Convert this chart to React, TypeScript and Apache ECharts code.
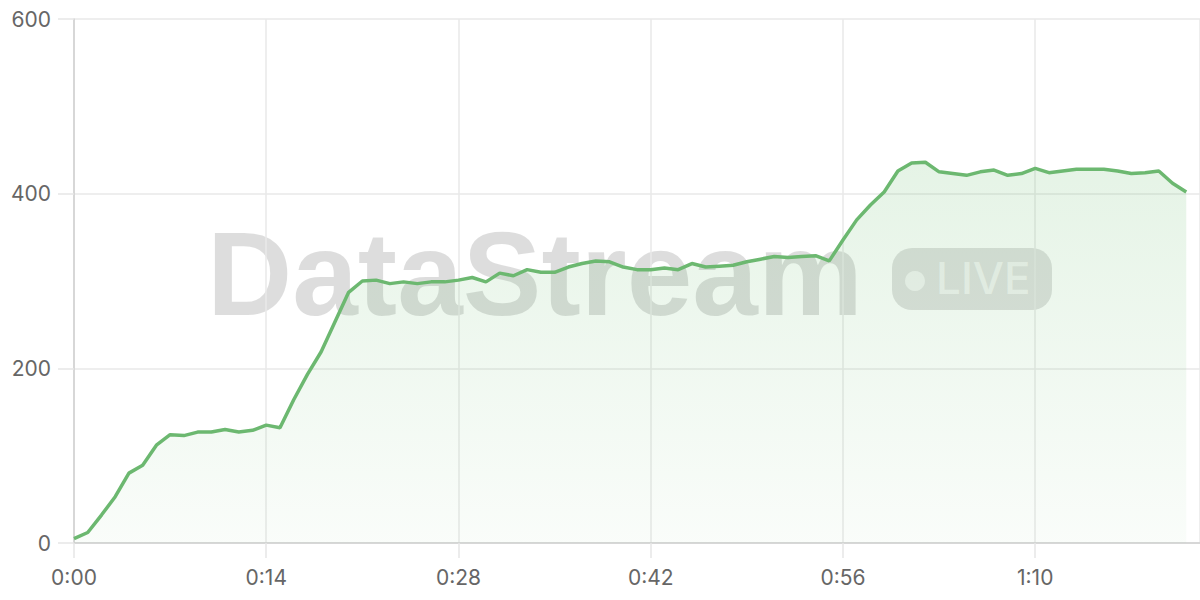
import { useRef, useEffect } from 'react';
import * as echarts from 'echarts';

// one sample per second, 0:00 .. 1:21
const seconds: number[] = Array.from({ length: 82 }, (_, i) => i);

const throughput: number[] = [
  5, 12, 32, 53, 80, 89, 112, 124, 123, 127,
  127, 130, 127, 129, 135, 132, 164, 193, 219, 253,
  287, 300, 301, 297, 299, 297, 299, 299, 301, 304,
  299, 309, 306, 313, 310, 310, 316, 320, 323, 322,
  316, 313, 313, 315, 313, 320, 316, 317, 318, 322,
  325, 328, 327, 328, 329, 323, 347, 370, 387, 402,
  426, 435, 436, 425, 423, 421, 425, 427, 421, 423,
  429, 424, 426, 428, 428, 428, 426, 423, 424, 426,
  412, 402,
];

const yTicks: number[] = [0, 200, 400, 600];
const xTicks: number[] = [0, 14, 28, 42, 56, 70];

const fmtTime = (v: number) => `${Math.floor(v / 60)}:${String(v % 60).padStart(2, '0')}`;

const LINE = '#6cb870';

export default function App() {
  const chartRef = useRef<HTMLDivElement>(null);

  useEffect(() => {
    if (!chartRef.current) return;
    const chart = echarts.init(chartRef.current, undefined, { renderer: 'svg' });

    const option = {
      animation: false,
      backgroundColor: '#fff',
      textStyle: { fontFamily: 'Inter' },
      grid: { left: 74, right: 0, top: 19, bottom: 57, containLabel: false, outerBoundsMode: 'none' },
      xAxis: {
        type: 'value',
        min: xTicks[0],
        max: 82,
        interval: xTicks[1] - xTicks[0],
        axisLine: { show: true, lineStyle: { color: '#cfcfcf', width: 1.5 } },
        axisTick: { show: true, length: 15, lineStyle: { color: '#e6e6e6', width: 1.5 } },
        splitLine: { show: true, lineStyle: { color: '#e8e8e8', width: 1.5 } },
        axisLabel: { color: '#666', fontSize: 21, margin: 24, formatter: fmtTime, showMaxLabel: false },
      },
      yAxis: {
        type: 'value',
        min: yTicks[0],
        max: yTicks[yTicks.length - 1],
        interval: yTicks[1] - yTicks[0],
        axisLine: { show: true, lineStyle: { color: '#cfcfcf', width: 1.5 } },
        axisTick: { show: true, length: 16, lineStyle: { color: '#e6e6e6', width: 1.5 } },
        splitLine: { show: true, lineStyle: { color: '#e8e8e8', width: 1.5 } },
        axisLabel: { color: '#666', fontSize: 21, margin: 23 },
      },
      graphic: [
        {
          type: 'group',
          z: 1,
          silent: true,
          children: [
            {
              type: 'text',
              style: {
                x: 207,
                y: 215,
                text: 'DataStream',
                fontFamily: 'Liberation Sans',
                fontWeight: 'bold',
                fontSize: 118,
                fill: 'rgba(0,0,0,0.135)',
                verticalAlign: 'top',
              },
            },
            {
              type: 'rect',
              shape: { x: 892, y: 248, width: 160, height: 62, r: 20 },
              style: { fill: 'rgba(0,0,0,0.12)' },
            },
            {
              type: 'circle',
              shape: { cx: 915, cy: 281, r: 10 },
              style: { fill: 'rgba(255,255,255,0.6)' },
            },
            {
              type: 'text',
              style: {
                x: 936,
                y: 256,
                text: 'LIVE',
                fontFamily: 'Inter',
                fontWeight: 500,
                fontSize: 44,
                fill: 'rgba(255,255,255,0.6)',
                verticalAlign: 'top',
              },
            },
          ],
        },
      ],
      series: [
        {
          type: 'line',
          data: seconds.map((s, i) => [s, throughput[i]]),
          showSymbol: false,
          smooth: false,
          z: 3,
          lineStyle: { color: LINE, width: 3.5 },
          itemStyle: { color: LINE },
          areaStyle: {
            color: new echarts.graphic.LinearGradient(0, 0, 0, 1, [
              { offset: 0, color: 'rgba(102,187,106,0.24)' },
              { offset: 1, color: 'rgba(102,187,106,0.05)' },
            ]),
          },
        },
      ],
    };

    chart.setOption(option);

    const handleResize = () => chart.resize();
    window.addEventListener('resize', handleResize);
    return () => {
      window.removeEventListener('resize', handleResize);
      chart.dispose();
    };
  }, []);

  return (
    <div
      ref={chartRef}
      style={{ position: 'fixed', left: 0, top: 0, width: 1200, height: 600 }}
    />
  );
}
